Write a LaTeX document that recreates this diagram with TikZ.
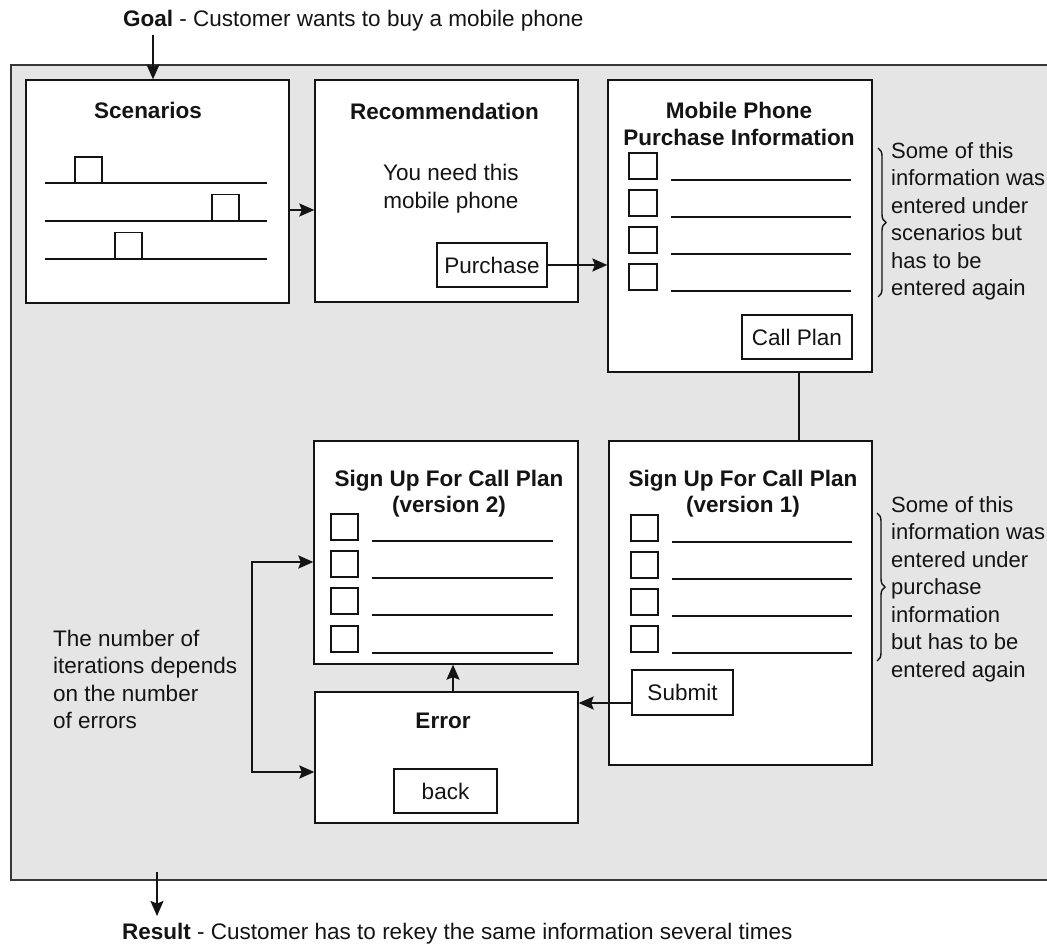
\documentclass[tikz,border=0pt]{standalone}
\usepackage{fontspec}
\setmainfont{Liberation Sans}
\usetikzlibrary{arrows.meta,decorations.pathreplacing}
\definecolor{panel}{HTML}{E5E5E5}
\definecolor{ink}{HTML}{141414}

\begin{document}
\begin{tikzpicture}[x=1pt,y=-1pt,
  every node/.style={font=\fontsize{22.5}{27.5}\selectfont, inner sep=0pt, text=ink},
  screen/.style={draw=ink, fill=white, line width=1.3pt},
  btn/.style={draw=ink, fill=white, line width=1.2pt},
  chk/.style={draw=ink, fill=white, line width=1.1pt, minimum width=27pt, minimum height=26pt},
  field/.style={draw=ink, line width=1.2pt},
  tip/.tip={Stealth[length=15pt,width=13pt,inset=2.5pt]},
  arr/.style={-tip, line width=1.8pt, draw=ink},
  twoarr/.style={tip-tip, line width=2.4pt, draw=ink},
  note/.style={align=left, anchor=west, font=\fontsize{22}{27.5}\selectfont},
  ttl/.style={font=\fontsize{22.5}{26.5}\selectfont\bfseries, align=center},
  bracket/.style={draw=ink, line width=1.4pt, decorate, decoration={brace, amplitude=8pt}},
]
\useasboundingbox (0,0) rectangle (1047,947);

% grey process area (runs past the right edge)
\path[fill=panel, draw=ink!85, line width=1.4pt] (11,65) rectangle (1070,880);

% goal and result captions
\node[anchor=west] (goal) at (123,21) {\textbf{Goal} - Customer wants to buy a mobile phone};
\node[anchor=west] (result) at (122,934) {\textbf{Result} - Customer has to rekey the same information several times};
\coordinate (goaltop) at (153,35);
\coordinate (resstart) at (157,872);
\coordinate (resend) at (157,916);

% screens
\node[screen, minimum width=263pt, minimum height=223pt] (scen) at (157.5,191.5) {};
\node[screen, minimum width=263pt, minimum height=222pt] (rec) at (446.5,191) {};
\node[screen, minimum width=264pt, minimum height=292pt] (mob) at (740,226) {};
\node[screen, minimum width=263pt, minimum height=324pt] (sv1) at (740.5,603) {};
\node[screen, minimum width=264pt, minimum height=223pt] (sv2) at (446,552.5) {};
\node[screen, minimum width=263pt, minimum height=131pt] (err) at (446.5,757.5) {};

% screen titles and texts
\node[ttl] (scenT) at (148,110) {Scenarios};
\node[ttl] (recT) at (444.5,111) {Recommendation};
\node[ttl] (mobT) at (739,124) {Mobile Phone\\Purchase Information};
\node[ttl] (sv1T) at (743,493.5) {Sign Up For Call Plan\\(version 1)};
\node[ttl] (sv2T) at (449,493.5) {Sign Up For Call Plan\\(version 2)};
\node[ttl] (errT) at (443,721) {Error};
\node[align=center] (recTxt) at (451,188.5) {You need this\\mobile phone};

% buttons
\node[btn, minimum width=110pt, minimum height=44pt] (purch) at (492,265) {Purchase};
\node[btn, minimum width=110pt, minimum height=44pt] (callplan) at (797,337) {Call Plan};
\node[btn, minimum width=101pt, minimum height=45pt] (submit) at (682.5,692.5) {Submit};
\node[btn, minimum width=103pt, minimum height=44pt] (back) at (445.5,791) {back};

% scenario sliders
\foreach \y in {183,221,259} \draw[field] (45,\y) -- (267,\y);
\node[chk] (sq1) at (88.5,170) {};
\node[chk] (sq2) at (225.5,207.5) {};
\node[chk] (sq3) at (128.5,245.5) {};

% form rows
\foreach \i/\y in {1/166,2/203,3/240,4/277} {
  \node[chk, minimum width=28pt] (mc\i) at (643,\y) {};
  \draw[field] (671,\y+14) -- (851,\y+14);
}
\foreach \i/\y in {1/528,2/565,3/602,4/639} {
  \node[chk] (ac\i) at (644.5,\y) {};
  \draw[field] (672,\y+14) -- (852,\y+14);
}
\foreach \i/\y in {1/527,2/564,3/601,4/639} {
  \node[chk] (bc\i) at (344.5,\y) {};
  \draw[field] (372,\y+14) -- (553,\y+14);
}

% side notes
\draw[bracket] (878,148) -- (878,297);
\node[note] (note1) at (891,221.5) {Some of this\\information was\\entered under\\scenarios but\\has to be\\entered again};
\draw[bracket] (877,513) -- (877,661);
\node[note] (note2) at (891,589) {Some of this\\information was\\entered under\\purchase\\information\\but has to be\\entered again};
\node[note, font=\fontsize{22.5}{27.5}\selectfont] (note3) at (53,679.5) {The number of\\iterations depends\\on the number\\of errors};

% connectors
\coordinate (yscen) at (0,210);
\coordinate (ysub) at (0,703);
\coordinate (yloopA) at (0,562);
\coordinate (yloopB) at (0,772);
\coordinate (xloop) at (252,0);
\coordinate (xlink) at (799,0);
\coordinate (xerr) at (453,0);

\draw[arr] (goaltop) -- (goaltop |- scen.north);
\draw[arr] (scen.east |- yscen) -- (rec.west |- yscen);
\draw[arr] (purch.east) -- (purch.east -| mob.west);
\draw[draw=ink, line width=1.8pt] (xlink |- mob.south) -- (xlink |- sv1.north);
\draw[arr] (submit.west |- ysub) -- (err.east |- ysub);
\draw[arr] (xerr |- err.north) -- (xerr |- sv2.south);
\draw[twoarr] (sv2.west |- yloopA) -- (xloop |- yloopA) -- (xloop |- yloopB) -- (err.west |- yloopB);
\draw[arr] (resstart) -- (resend);
\end{tikzpicture}
\end{document}
